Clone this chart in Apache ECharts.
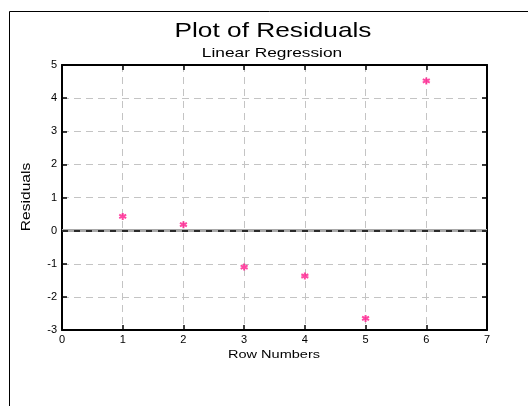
<!DOCTYPE html>
<html>
<head>
<meta charset="utf-8">
<script src="https://cdn.jsdelivr.net/npm/echarts@6/dist/echarts.min.js"></script>
<style>
  html, body { margin: 0; padding: 0; background: #fff; }
  #main { width: 528px; height: 406px; }
</style>
</head>
<body>
<div id="main"></div>
<script>
var rowNumbers = [1, 2, 3, 4, 5, 6];
var residuals = [0.43, 0.18, -1.1, -1.37, -2.65, 4.52];
var xTicks = [0, 7, 1];
var yTicks = [-3, 5, 1];

var points = rowNumbers.map(function (r, i) { return [r, residuals[i]]; });

var font = 'Liberation Sans, Arial, sans-serif';
var myChart = echarts.init(document.getElementById('main'));

// mirrored top/right axes: line + inward ticks only
var mirrorAxis = {
    axisLine: { show: true, onZero: false, lineStyle: { color: '#000', width: 2 } },
    axisTick: { show: true, inside: true, length: 5, lineStyle: { color: '#000', width: 1.5 } },
    axisLabel: { show: false },
    splitLine: { show: false }
};

// the original text is drawn wide, so stretch it horizontally
function label(text, x, y, size, stretch, rot) {
    return {
        type: 'text', silent: true,
        x: x, y: y, rotation: rot || 0, scaleX: stretch,
        style: {
            text: text, fontFamily: font, fontSize: size, fill: '#000',
            align: 'center', verticalAlign: 'middle'
        }
    };
}

myChart.setOption({
    backgroundColor: '#fff',
    animation: false,
    graphic: [
        {
            type: 'rect', silent: true, z: -1,
            shape: { x: 9.5, y: 11.5, width: 700, height: 600 },
            style: { fill: 'none', stroke: '#000', lineWidth: 1 }
        },
        label('Plot of Residuals', 273, 31, 21, 1.25),
        label('Linear Regression', 272, 53, 13, 1.33),
        label('Row Numbers', 274, 355, 11, 1.32),
        label('Residuals', 27, 197, 12, 1.3, Math.PI / 2)
    ],
    grid: { left: 62, top: 65, width: 425, height: 265 },
    xAxis: [
        {
            type: 'value', min: xTicks[0], max: xTicks[1], interval: xTicks[2],
            axisLine: { show: true, onZero: false, lineStyle: { color: '#000', width: 2 } },
            axisTick: { show: true, inside: true, length: 5, lineStyle: { color: '#000', width: 1.5 } },
            axisLabel: { fontFamily: font, fontSize: 11, color: '#000', margin: 4 },
            splitLine: { show: true, lineStyle: { color: '#c4c4c4', type: [7, 5], width: 1 } }
        },
        Object.assign({ type: 'value', position: 'top', min: xTicks[0], max: xTicks[1], interval: xTicks[2] }, mirrorAxis)
    ],
    yAxis: [
        {
            type: 'value', min: yTicks[0], max: yTicks[1], interval: yTicks[2],
            axisLine: { show: true, onZero: false, lineStyle: { color: '#000', width: 2 } },
            axisTick: { show: true, inside: true, length: 5, lineStyle: { color: '#000', width: 1.5 } },
            axisLabel: { fontFamily: font, fontSize: 11, color: '#000', margin: 5 },
            splitLine: { show: true, lineStyle: { color: '#c4c4c4', type: [7, 5], width: 1 } }
        },
        Object.assign({ type: 'value', position: 'right', min: yTicks[0], max: yTicks[1], interval: yTicks[2] }, mirrorAxis)
    ],
    series: [
        {
            name: 'Residuals',
            type: 'scatter',
            data: points,
            symbol: 'path://M0,-10L0,10M-8.7,-5L8.7,5M-8.7,5L8.7,-5',
            symbolSize: 7,
            itemStyle: { color: 'transparent', borderColor: '#ff1a8c', borderWidth: 2 },
            z: 5,
            markLine: {
                silent: true,
                symbol: 'none',
                label: { show: false },
                data: [
                    { yAxis: 0, lineStyle: { color: '#a8a8a8', width: 3, type: 'solid' } },
                    { yAxis: 0, lineStyle: { color: '#000', width: 1.5, type: [6, 6] } }
                ]
            }
        }
    ]
});
</script>
</body>
</html>
